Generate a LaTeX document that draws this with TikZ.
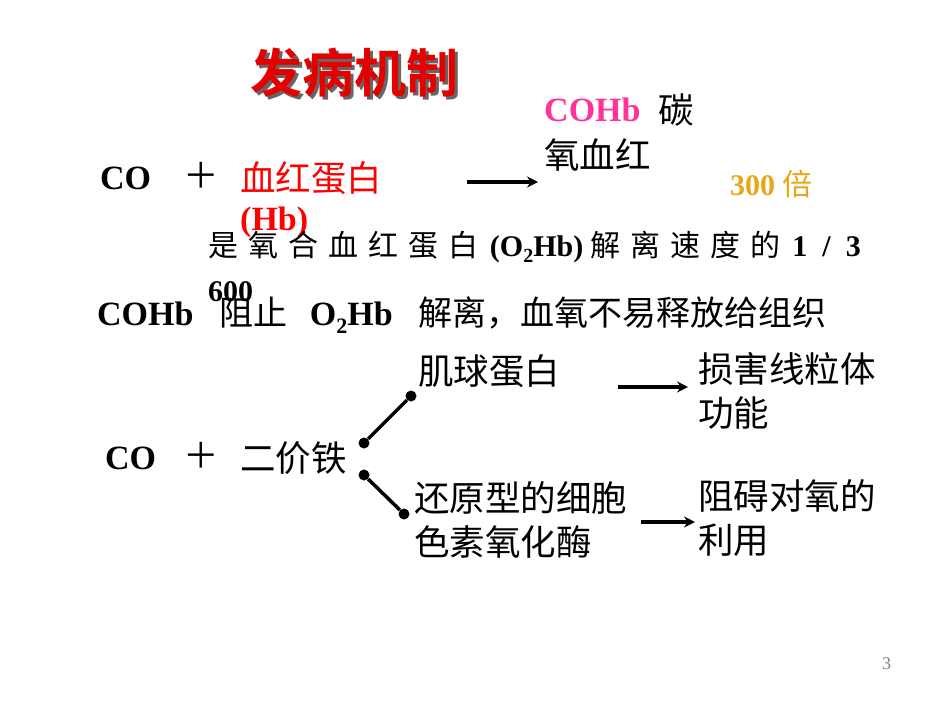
\documentclass[tikz,border=0pt]{standalone}
\usepackage{fontspec}
\usetikzlibrary{arrows.meta}
\setmainfont{Liberation Serif}
\newfontfamily\cjk{Noto Sans CJK SC}
\newfontfamily\cjkb{Noto Sans CJK SC Bold}
\begin{document}
\begin{tikzpicture}[x=1pt,y=-1pt,
  t/.style={inner sep=0pt,anchor=west},
  lat/.style={t,font=\fontsize{34}{36}\selectfont\bfseries},
  zh/.style={t,font=\fontsize{35.5}{36}\selectfont\cjk},
  arr/.style={line width=3.5pt,-{Stealth[length=11pt,width=11pt]}},
  br/.style={line width=3.5pt},
  dot/.style={circle,fill=black,inner sep=0pt,minimum size=11pt}]
\useasboundingbox (0,0) rectangle (950,713);
\node[t,font=\fontsize{52}{54}\selectfont\cjkb,text=black!60] at (253,76) {发病机制};
\node[t,font=\fontsize{52}{54}\selectfont\cjkb,text=red!90!black] (title) at (250,73) {发病机制};
\node[lat] (co1) at (100,178) {CO};
\node[zh] (p1) at (183,175) {＋};
\node[zh,text=red] (hb) at (240,178) {血红蛋白};
\node[lat,text=red] (hb2) at (240,222) {(Hb)};
\coordinate (a1s) at (467,182); \coordinate (a1e) at (538,182);
\draw[arr] (a1s) -- (a1e);
\node[lat,text={rgb,255:red,255;green,51;blue,153}] (cohb) at (544,110) {COHb};
\node[zh] (tan) at (658,110) {碳};
\node[zh] (yxh) at (544,155) {氧血红};
\node[t,font=\fontsize{30}{32}\selectfont\bfseries,text={rgb,255:red,230;green,168;blue,23}] (b300) at (730,184) {300 \cjk\mdseries 倍};
\node[t,font=\fontsize{30}{32}\selectfont\cjk] (s1) at (208,247) {是\,\,氧\,\,合\,\,血\,\,红\,\,蛋\,\,白\, \rmfamily\bfseries(O\raisebox{-6pt}{\fontsize{20}{20}\selectfont 2}Hb) \cjk\mdseries 解\,\,离\,\,速\,\,度\,\,的\, \rmfamily\bfseries 1 \ / \ 3};
\node[t,font=\fontsize{30}{32}\selectfont\bfseries] (s2) at (208,292) {600};
\node[t,font=\fontsize{34}{36}\selectfont\bfseries] (l3) at (97,315) {COHb \ \ \cjk\mdseries 阻止 \ \ \rmfamily\bfseries O\raisebox{-8pt}{\fontsize{22}{22}\selectfont 2}Hb \ \ \cjk\mdseries 解离，血氧不易释放给组织};
\node[lat] (co2) at (105,458) {CO};
\node[zh] (p2) at (183,455) {＋};
\node[zh] (fe) at (240,458) {二价铁};
\node[dot] (d1) at (364,443) {}; \node[dot] (d2) at (411,396) {};
\node[dot] (d3) at (364,475) {}; \node[dot] (d4) at (404,514) {};
\draw[br] (d1) -- (d2); \draw[br] (d3) -- (d4);
\node[zh] (mb) at (418,371) {肌球蛋白};
\coordinate (a2s) at (618,387); \coordinate (a2e) at (688,387);
\draw[arr] (a2s) -- (a2e);
\node[zh] (r1) at (698,369) {损害线粒体};
\node[zh] (r2) at (698,413) {功能};
\node[zh] (c1) at (414,498) {还原型的细胞};
\node[zh] (c2) at (414,542) {色素氧化酶};
\coordinate (a3s) at (641,522); \coordinate (a3e) at (695,522);
\draw[arr] (a3s) -- (a3e);
\node[zh] (r3) at (698,496) {阻碍对氧的};
\node[zh] (r4) at (698,540) {利用};
\node[t,font=\fontsize{18}{18}\selectfont,text=gray] (pg) at (882,664) {3};
\end{tikzpicture}
\end{document}
